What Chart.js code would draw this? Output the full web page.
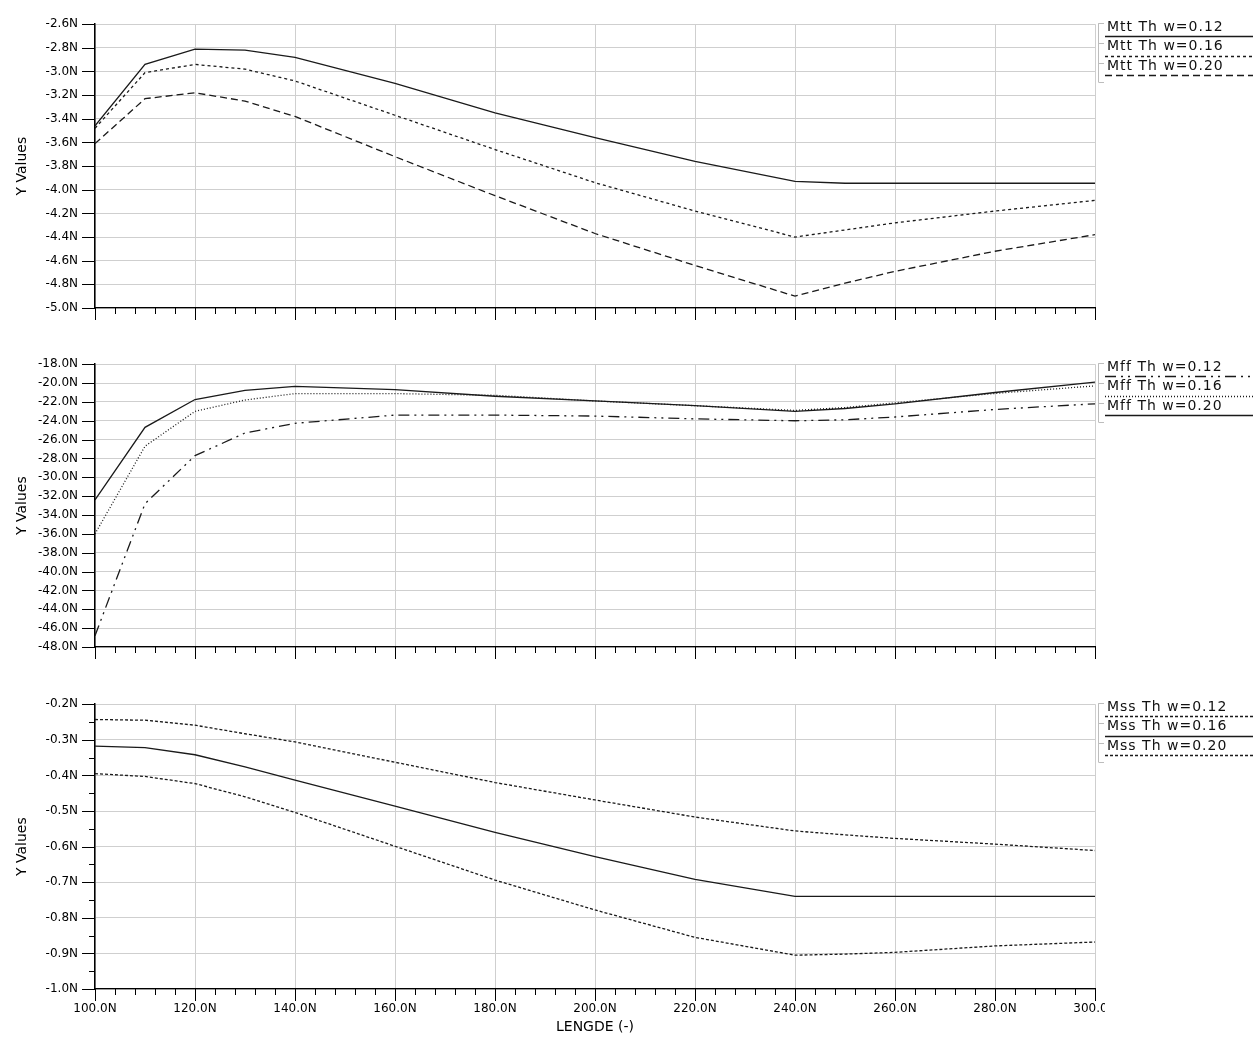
<!DOCTYPE html>
<html lang="en">
<head>
  <meta charset="UTF-8">
  <title>LENGDE sweep</title>
  <script src="https://cdn.jsdelivr.net/npm/chart.js"></script>
  <style>
    body {
      margin: 0;
      background: #fff;
      width: 1253px;
      height: 1037px;
      position: relative;
      overflow: hidden;
    }
    .panel {
      position: absolute;
      left: 0;
    }
  </style>
</head>
<body>
  <canvas id="mtt" class="panel" width="1253" height="340" style="top:0px"></canvas>
  <canvas id="mff" class="panel" width="1253" height="340" style="top:340px"></canvas>
  <canvas id="mss" class="panel" width="1253" height="357" style="top:680px"></canvas>

  <script>
    // x values (N)
    const lengths = [100, 110, 120, 130, 140, 160, 180, 200, 220, 240, 250, 260, 280, 300];

    // top panel
    const mtt012 = [-3.46, -2.94, -2.81, -2.82, -2.88, -3.10, -3.35, -3.56, -3.76, -3.93, -3.945, -3.945, -3.945, -3.945];
    const mtt016 = [-3.48, -3.01, -2.94, -2.98, -3.08, -3.37, -3.66, -3.94, -4.18, -4.40, -4.34, -4.28, -4.18, -4.09];
    const mtt020 = [-3.61, -3.23, -3.18, -3.25, -3.38, -3.72, -4.05, -4.37, -4.64, -4.90, -4.79, -4.69, -4.52, -4.38];

    // middle panel
    const mff012 = [-46.8, -32.8, -27.7, -25.3, -24.27, -23.4, -23.4, -23.5, -23.8, -24.0, -23.9, -23.6, -22.8, -22.2];
    const mff016 = [-36.0, -26.7, -23.0, -21.8, -21.12, -21.12, -21.3, -21.9, -22.4, -22.9, -22.6, -22.1, -21.1, -20.3];
    const mff020 = [-32.4, -24.7, -21.75, -20.77, -20.35, -20.7, -21.4, -21.9, -22.4, -23.0, -22.7, -22.2, -21.0, -19.9];

    // bottom panel
    const mss012 = [-0.243, -0.245, -0.259, -0.283, -0.306, -0.363, -0.42, -0.469, -0.517, -0.556, -0.567, -0.577, -0.593, -0.611];
    const mss016 = [-0.318, -0.322, -0.342, -0.376, -0.413, -0.486, -0.56, -0.628, -0.692, -0.74, -0.74, -0.74, -0.74, -0.74];
    const mss020 = [-0.395, -0.403, -0.423, -0.46, -0.504, -0.599, -0.694, -0.778, -0.855, -0.905, -0.902, -0.897, -0.879, -0.868];

    const xTicksStep = 20;
    const FONT = "'DejaVu Sans', sans-serif";

    const pts = arr => lengths.map((x, i) => ({ x: x, y: arr[i] }));

    function series(label, arr, dash) {
      return {
        label: label,
        data: pts(arr),
        borderColor: "#1a1a1a",
        borderWidth: 1.3,
        borderDash: dash,
        pointRadius: 0,
        tension: 0,
        fill: false
      };
    }

    // black tick marks: major + minor on x, major (and optional minor) on y
    const axisTicks = {
      id: "axisTicks",
      afterDraw(chart, args, opts) {
        const { ctx, chartArea: a, scales: { x, y } } = chart;
        ctx.save();
        ctx.strokeStyle = "#000";
        ctx.lineWidth = 1;
        ctx.beginPath();
        for (let v = x.min; v <= x.max; v += 4) {
          const px = Math.round(x.getPixelForValue(v)) + 0.5;
          const len = (v - x.min) % xTicksStep === 0 ? 12 : 6;
          ctx.moveTo(px, a.bottom);
          ctx.lineTo(px, a.bottom + len);
        }
        y.ticks.forEach(t => {
          const py = Math.round(y.getPixelForValue(t.value)) + 0.5;
          ctx.moveTo(a.left - 13, py);
          ctx.lineTo(a.left, py);
        });
        if (opts.yMinor) {
          y.ticks.forEach(t => {
            const v = t.value + opts.yMinor;
            if (v < y.max) {
              const py = Math.round(y.getPixelForValue(v)) + 0.5;
              ctx.moveTo(a.left - 6, py);
              ctx.lineTo(a.left, py);
            }
          });
        }
        ctx.stroke();
        ctx.restore();
      }
    };

    // legend on the right: label with its line sample underneath
    const sideLegend = {
      id: "sideLegend",
      afterDraw(chart) {
        const { ctx, chartArea: a } = chart;
        const x0 = a.right + 12;
        ctx.save();
        ctx.strokeStyle = "#bdbdbd";
        ctx.lineWidth = 1;
        ctx.beginPath();
        ctx.moveTo(a.right + 3.5, a.top - 1);
        ctx.lineTo(a.right + 3.5, a.top + 58);
        for (let i = 0; i < 4; i++) {
          const sy = Math.round(a.top - 1 + i * 19.7) + 0.5;
          ctx.moveTo(a.right + 3.5, sy);
          ctx.lineTo(a.right + 9, sy);
        }
        ctx.stroke();

        ctx.font = "14px " + FONT;
        ctx.letterSpacing = "1px";
        ctx.fillStyle = "#111";
        ctx.textBaseline = "middle";
        chart.data.datasets.forEach((ds, i) => {
          const ty = a.top + 3 + i * 19.5;
          ctx.fillText(ds.label, x0, ty);
          const ly = Math.round(a.top + 12 + i * 19.5) + 0.5;
          ctx.strokeStyle = ds.borderColor;
          ctx.lineWidth = 1.3;
          ctx.setLineDash(ds.borderDash || []);
          ctx.beginPath();
          ctx.moveTo(x0 - 2, ly);
          ctx.lineTo(chart.width, ly);
          ctx.stroke();
        });
        ctx.restore();
      }
    };

    // cut the last x label at the legend edge, like the original
    const clipRight = {
      id: "clipRight",
      beforeDraw(chart, args, opts) {
        if (!opts.at) return;
        chart.ctx.save();
        chart.ctx.beginPath();
        chart.ctx.rect(0, 0, opts.at, chart.height);
        chart.ctx.clip();
      },
      afterDatasetsDraw(chart, args, opts) {
        if (!opts.at) return;
        chart.ctx.restore();
      }
    };

    function makePanel(id, datasets, yMin, yMax, yStep, p) {
      const canvas = document.getElementById(id);
      const h = canvas.height;
      return new Chart(canvas, {
        type: "line",
        data: { datasets: datasets },
        options: {
          responsive: false,
          animation: false,
          events: [],
          layout: { padding: { top: p.top, right: 158, left: 0, bottom: 0 } },
          plugins: {
            legend: { display: false },
            tooltip: { enabled: false },
            axisTicks: { yMinor: p.yMinor || 0 },
            clipRight: { at: p.clip || 0 }
          },
          scales: {
            x: {
              type: "linear",
              min: 100,
              max: 300,
              afterFit: s => { s.height = h - p.bottom; },
              grid: { color: "#cfcfcf", lineWidth: 1, drawTicks: false },
              border: { display: true, color: "#000", width: 1.3 },
              ticks: {
                display: !!p.xLabels,
                stepSize: xTicksStep,
                autoSkip: false,
                maxRotation: 0,
                padding: 13,
                color: "#000",
                font: { family: FONT, size: 12 },
                callback: v => v.toFixed(1) + "N"
              },
              title: {
                display: !!p.xLabels,
                text: "LENGDE (-)",
                color: "#000",
                font: { family: FONT, size: 14 },
                padding: { top: 0, bottom: 1 }
              }
            },
            y: {
              min: yMin,
              max: yMax,
              afterFit: s => { s.width = 95; },
              grid: { color: "#cfcfcf", lineWidth: 1, drawTicks: false },
              border: { display: true, color: "#000", width: 1.5 },
              ticks: {
                stepSize: yStep,
                padding: 17,
                color: "#000",
                font: { family: FONT, size: 12 },
                callback: v => v.toFixed(1) + "N"
              },
              title: {
                display: true,
                text: "Y Values",
                color: "#000",
                font: { family: FONT, size: 14 },
                padding: { top: 14, bottom: 0 }
              }
            }
          }
        },
        plugins: [axisTicks, sideLegend, clipRight]
      });
    }

    const mttChart = makePanel("mtt", [
      series("Mtt Th w=0.12", mtt012, []),
      series("Mtt Th w=0.16", mtt016, [3, 3]),
      series("Mtt Th w=0.20", mtt020, [7, 4])
    ], -5.0, -2.6, 0.2, { top: 19, bottom: 308 });

    const mffChart = makePanel("mff", [
      series("Mff Th w=0.12", mff012, [11, 5, 2, 5, 2, 5]),
      series("Mff Th w=0.16", mff016, [1, 2]),
      series("Mff Th w=0.20", mff020, [])
    ], -48, -18, 2, { top: 18, bottom: 307 });

    const mssChart = makePanel("mss", [
      series("Mss Th w=0.12", mss012, [3, 2]),
      series("Mss Th w=0.16", mss016, []),
      series("Mss Th w=0.20", mss020, [3, 2])
    ], -1.0, -0.2, 0.1, { top: 17, bottom: 309, yMinor: 0.05, xLabels: true, clip: 1105 });
  </script>
</body>
</html>
